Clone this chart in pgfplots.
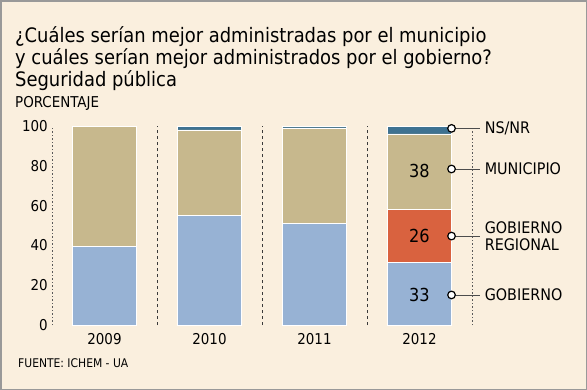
\documentclass[border=0pt]{standalone}
\usepackage{pgfplots}
\pgfplotsset{compat=1.18}
\usepackage{fontspec}
\setmainfont{DejaVu Sans Condensed}
\definecolor{bg}{HTML}{FAEFDE}
\definecolor{gob}{HTML}{97B2D4}
\definecolor{reg}{HTML}{D9623F}
\definecolor{mun}{HTML}{C7B88D}
\definecolor{ns}{HTML}{3E7291}
\definecolor{sep}{HTML}{3A3A3A}
\begin{document}
\begin{tikzpicture}
\fill[bg] (0bp,0bp) rectangle (587bp,-390bp);
\draw[gray!80, line width=1.5bp] (0.75bp,-0.75bp) rectangle (586.25bp,-389.25bp);
\node[anchor=base west, font=\fontsize{20}{22}\selectfont, inner sep=0] at (15bp,-42bp) {¿Cuáles serían mejor administradas por el municipio};
\node[anchor=base west, font=\fontsize{20}{22}\selectfont, inner sep=0] at (15bp,-64bp) {y cuáles serían mejor administrados por el gobierno?};
\node[anchor=base west, font=\fontsize{20}{22}\selectfont, inner sep=0] at (15bp,-86bp) {Seguridad pública};
\node[anchor=base west, font=\fontsize{15}{17}\selectfont, inner sep=0] at (15bp,-107bp) {PORCENTAJE};
\node[anchor=base west, font=\fontsize{12}{14}\selectfont, inner sep=0] at (18bp,-367bp) {FUENTE: ICHEM - UA};
\begin{axis}[
  at={(52bp,-325bp)}, anchor=south west,
  scale only axis, width=420bp, height=199bp,
  xmin=-0.5, xmax=3.5, ymin=0, ymax=100,
  ybar stacked, bar width=64bp,
  axis line style={draw=none}, tick style={draw=none},
  xtick={0,1,2,3}, xticklabels={2009,2010,2011,2012},
  ytick={0,20,40,60,80,100},
  tick label style={font=\fontsize{15}{17}\selectfont},
  /pgf/number format/assume math mode=true,
  yticklabel style={anchor=east, inner sep=0pt, xshift=-4bp},
  xticklabel style={anchor=north, inner sep=0pt, yshift=-8bp},
  clip=false,
]
\addplot[fill=gob, draw=white, line width=0.5pt] coordinates {(0,39.5) (1,55) (2,51) (3,31.5)};
\addplot[fill=reg, draw=white, line width=0.5pt] coordinates {(0,0) (1,0) (2,0) (3,26.5)};
\addplot[fill=mun, draw=white, line width=0.5pt] coordinates {(0,60.5) (1,43) (2,48) (3,38)};
\addplot[fill=ns, draw=white, line width=0.5pt] coordinates {(0,0) (1,2) (2,1) (3,4)};
\end{axis}
\begin{axis}[
  at={(52bp,-325bp)}, anchor=south west,
  scale only axis, width=420bp, height=199bp,
  xmin=-0.5, xmax=3.5, ymin=0, ymax=100,
  hide axis, clip=false,
]
\addplot[gray!70!black, dash pattern=on 1.5bp off 2bp, line width=0.8bp] coordinates {(-0.5,0) (-0.5,100)};
\addplot[sep, dash pattern=on 3bp off 3bp, line width=0.8bp] coordinates {(0.5,0) (0.5,100)};
\addplot[sep, dash pattern=on 3bp off 3bp, line width=0.8bp] coordinates {(1.5,0) (1.5,100)};
\addplot[sep, dash pattern=on 3bp off 3bp, line width=0.8bp] coordinates {(2.5,0) (2.5,100)};
\addplot[gray!70!black, dash pattern=on 1.5bp off 2bp, line width=0.8bp] coordinates {(3.5,0) (3.5,100)};
\addplot[black!70, line width=0.8bp] coordinates {(3.305,98.8) (3.58,98.8)};
\addplot[black!70, line width=0.8bp] coordinates {(3.305,78.4) (3.58,78.4)};
\addplot[black!70, line width=0.8bp] coordinates {(3.305,44.7) (3.58,44.7)};
\addplot[black!70, line width=0.8bp] coordinates {(3.305,15.1) (3.58,15.1)};
\addplot[only marks, mark=*, mark size=3.8bp, mark options={fill=white, draw=black, line width=1.2bp}]
  coordinates {(3.305,98.8) (3.305,78.4) (3.305,44.7) (3.305,15.1)};
\node[anchor=west, inner sep=0, font=\fontsize{16}{17}\selectfont] at (axis cs:3.62,98.8) {NS/NR};
\node[anchor=west, inner sep=0, font=\fontsize{16}{17}\selectfont] at (axis cs:3.62,78.4) {MUNICIPIO};
\node[anchor=west, inner sep=0, align=left, font=\fontsize{16}{17}\selectfont] at (axis cs:3.62,44.7) {GOBIERNO\\REGIONAL};
\node[anchor=west, inner sep=0, font=\fontsize{16}{17}\selectfont] at (axis cs:3.62,15.1) {GOBIERNO};
\node[font=\fontsize{18}{20}\selectfont] at (axis cs:3,77.5) {38};
\node[font=\fontsize{18}{20}\selectfont] at (axis cs:3,44.7) {26};
\node[font=\fontsize{18}{20}\selectfont] at (axis cs:3,15.1) {33};
\end{axis}
\end{tikzpicture}
\end{document}
